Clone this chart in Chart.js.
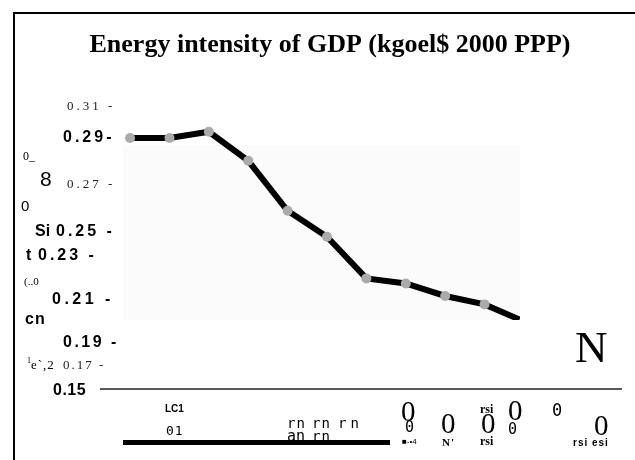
<!DOCTYPE html>
<html>
<head>
<meta charset="utf-8">
<script src="https://cdn.jsdelivr.net/npm/chart.js@4"></script>
<style>
html, body { margin: 0; padding: 0; background: #fff; }
#wrap { position: relative; width: 635px; height: 460px; }
</style>
</head>
<body>
<div id="wrap"><canvas id="chart" width="635" height="460"></canvas></div>
<script>
const TITLE = 'Energy intensity of GDP (kgoel$ 2000 PPP)';
const YEARS = [1990, 1991, 1992, 1993, 1994, 1995, 1996, 1997, 1998, 1999, 2000];
const INTENSITY = [0.290, 0.290, 0.2935, 0.2773, 0.2494, 0.2349, 0.2117, 0.2089, 0.2019, 0.1972, 0.1877];
const AXIS_VALUE = 0.15;

// left column, as printed (tick labels mixed with scraps of the axis title)
const Y_TICK_LABELS = ['0.31 -', '0.29-', '0.27 -', '0.25 -', '0.23 -', '0.21 -', '0.19 -', '0.17 -', '0.15'];
const Y_SCRAPS = ['0_', '8', '0', 'Si', 't', '(..0', 'cn', '1', 'e`,2'];
// bottom row scraps
const X_SCRAPS = ['LC1', '01', 'rn', 'an', 'rn', 'rn', 'rn', '0', '0', '\u25A0-\u20224', '0', "N'", 'rsi', '0', 'rsi', '0', '0', '0', '0', 'rsi', 'esi', 'N'];

const SERIF = '"Liberation Serif", "Times New Roman", serif';
const SANS = '"Liberation Sans", Arial, sans-serif';
const MONO = '"DejaVu Sans Mono", monospace';

// where each piece of text sits: [x, y, font, letterSpacing]
const Y_TICK_LAYOUT = [
  [67, 107, '13px ' + SERIF, 3],
  [63, 138, 'bold 16px ' + SANS, 3],
  [67, 185, '13px ' + SERIF, 3],
  [56, 232, 'bold 16px ' + SANS, 3],
  [38, 256, 'bold 16px ' + SANS, 3],
  [52, 300, 'bold 16px ' + SANS, 3.5],
  [63, 343, 'bold 16px ' + SANS, 2.5],
  [63, 366, '13px ' + SERIF, 2],
  [53, 391, 'bold 16px ' + SANS, 0.5],
];
const Y_SCRAP_LAYOUT = [
  [23, 157, '12px ' + SERIF, 0],
  [40, 180, '21px ' + SANS, 0],
  [21, 207, '15px ' + SANS, 0],
  [35, 232, 'bold 16px ' + SANS, 0],
  [26, 256, 'bold 16px ' + SANS, 0],
  [24, 282, '11px ' + SERIF, 0],
  [25, 320, 'bold 16px ' + SANS, 1],
  [27, 361, '8px ' + SERIF, 0],
  [31, 366, '13px ' + SERIF, 1],
];
const X_SCRAP_LAYOUT = [
  [165, 409, 'bold 10px ' + SANS, 0],
  [166, 432, '13px ' + MONO, 1],
  [287, 424, '14px ' + MONO, 1],
  [287, 437, '15px ' + MONO, 0],
  [312, 424, '14px ' + MONO, 1],
  [312, 437, '14px ' + MONO, 1],
  [338, 424, '14px ' + MONO, 4],
  [401, 413, '29px ' + SERIF, 0],
  [405, 428, '15px ' + MONO, 0],
  [402, 442, '8px ' + SANS, 0],
  [441, 425, '29px ' + SERIF, 0],
  [442, 443, 'bold 11px ' + SERIF, 1],
  [480, 410, 'bold 12px ' + SERIF, 0],
  [481, 425, '29px ' + SERIF, 0],
  [480, 442, 'bold 12px ' + SERIF, 0],
  [508, 412, '29px ' + SERIF, 0],
  [508, 430, '15px ' + MONO, 0],
  [552, 412, '17px ' + MONO, 0],
  [594, 427, '29px ' + SERIF, 0],
  [573, 443, 'bold 10px ' + SANS, 1],
  [592, 443, 'bold 10px ' + SANS, 1],
  [575, 350, '45px ' + SERIF, 0],
];

function putText(ctx, text, pos) {
  ctx.font = pos[2];
  ctx.letterSpacing = pos[3] + 'px';
  ctx.fillText(text, pos[0], pos[1]);
}

const decorations = {
  id: 'decorations',
  beforeDatasetsDraw(chart) {
    const { ctx, chartArea } = chart;
    ctx.save();
    ctx.fillStyle = '#fbfbfb';
    ctx.fillRect(chartArea.left, 145, chartArea.right - chartArea.left, chartArea.bottom - 145);
    ctx.restore();
  },
  afterDraw(chart) {
    const { ctx, chartArea } = chart;
    const y = chart.scales.y;
    ctx.save();
    // frame
    ctx.strokeStyle = '#000';
    ctx.lineWidth = 2;
    ctx.beginPath();
    ctx.moveTo(14, 460);
    ctx.lineTo(14, 13);
    ctx.lineTo(635, 13);
    ctx.stroke();
    // base line at 0.15
    const yBase = y.getPixelForValue(AXIS_VALUE);
    ctx.strokeStyle = '#222';
    ctx.lineWidth = 1.5;
    ctx.beginPath();
    ctx.moveTo(100, yBase);
    ctx.lineTo(622, yBase);
    ctx.stroke();
    // heavy bar under the category row
    ctx.fillStyle = '#000';
    ctx.fillRect(chartArea.left, 440, 267, 5);

    ctx.fillStyle = '#000';
    ctx.textAlign = 'center';
    ctx.textBaseline = 'middle';
    ctx.font = 'bold 26px ' + SERIF;
    ctx.fillText(TITLE, 330, 45);

    ctx.textAlign = 'left';
    Y_TICK_LABELS.forEach((t, i) => {
      ctx.fillStyle = Y_TICK_LAYOUT[i][2].indexOf('bold') === 0 ? '#000' : '#222';
      putText(ctx, t, Y_TICK_LAYOUT[i]);
    });
    ctx.fillStyle = '#000';
    Y_SCRAPS.forEach((t, i) => putText(ctx, t, Y_SCRAP_LAYOUT[i]));
    X_SCRAPS.forEach((t, i) => putText(ctx, t, X_SCRAP_LAYOUT[i]));
    ctx.restore();
  }
};

new Chart(document.getElementById('chart'), {
  type: 'line',
  data: {
    datasets: [{
      data: YEARS.map((yr, i) => ({ x: yr, y: INTENSITY[i] })),
      borderColor: '#000',
      borderWidth: 6,
      pointBackgroundColor: '#aaa',
      pointBorderWidth: 0,
      pointRadius: 5,
      tension: 0,
    }]
  },
  options: {
    responsive: false,
    animation: false,
    layout: { padding: { left: 123, right: 115, top: 100, bottom: 140 } },
    plugins: { legend: { display: false }, tooltip: { enabled: false }, title: { display: false } },
    scales: {
      x: { type: 'linear', min: 1989.82, max: 1999.9, display: false },
      y: { min: 0.1885, max: 0.3112, display: false },
    },
  },
  plugins: [decorations],
});
</script>
</body>
</html>
